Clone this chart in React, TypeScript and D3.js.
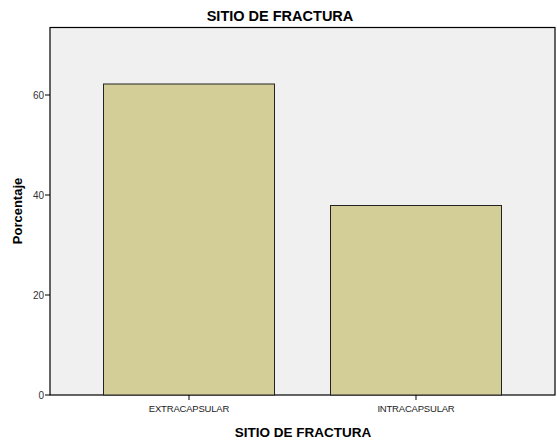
import React from "react";
import * as d3 from "d3";

const categories = ["EXTRACAPSULAR", "INTRACAPSULAR"];
const values = [62.2, 37.9];
const yTicks = [0, 20, 40, 60];

export default function App() {
  const W = 557, H = 444;
  const left = 50, right = 555, top = 27.5, bottom = 395;
  const y = d3.scaleLinear().domain([0, 73.5]).range([bottom, top]);
  const x = d3.scaleBand<string>().domain(categories).range([left, right]).paddingInner(0.2467).paddingOuter(0.2357);
  return (
    <svg width={W} height={H} style={{ position: "absolute", left: 0, top: 0 }} fontFamily="'Liberation Sans', Arial, sans-serif">
      <rect x={0} y={0} width={W} height={H} fill="#fff" />
      <text x={280} y={20.5} textAnchor="middle" fontWeight="bold" fontSize={14.5} fill="#000">SITIO DE FRACTURA</text>
      <rect x={left} y={top} width={right - left} height={bottom - top} fill="#F0F0F0" stroke="#000" strokeWidth={1.2} />
      {categories.map((c, i) => (
        <rect key={c} x={x(c)!} y={y(values[i])} width={x.bandwidth()} height={bottom - y(values[i])} fill="#D3CE98" stroke="#222" strokeWidth={1} />
      ))}
      {yTicks.map((t) => (
        <g key={t}>
          <line x1={left - 5} x2={left} y1={y(t)} y2={y(t)} stroke="#000" />
          <text x={left - 6} y={y(t) + 3.5} textAnchor="end" fontSize={10} fill="#333">{t}</text>
        </g>
      ))}
      {categories.map((c) => (
        <g key={c}>
          <line x1={x(c)! + x.bandwidth() / 2} x2={x(c)! + x.bandwidth() / 2} y1={bottom} y2={bottom + 5} stroke="#000" />
          <text x={x(c)! + x.bandwidth() / 2} y={411.5} textAnchor="middle" fontSize={9.5} fill="#222" letterSpacing={-0.2}>{c}</text>
        </g>
      ))}
      <text x={303} y={437} textAnchor="middle" fontWeight="bold" fontSize={13.5} fill="#000">SITIO DE FRACTURA</text>
      <text transform={`translate(22, ${211}) rotate(-90)`} textAnchor="middle" fontWeight="bold" fontSize={13} fill="#000">Porcentaje</text>
    </svg>
  );
}
